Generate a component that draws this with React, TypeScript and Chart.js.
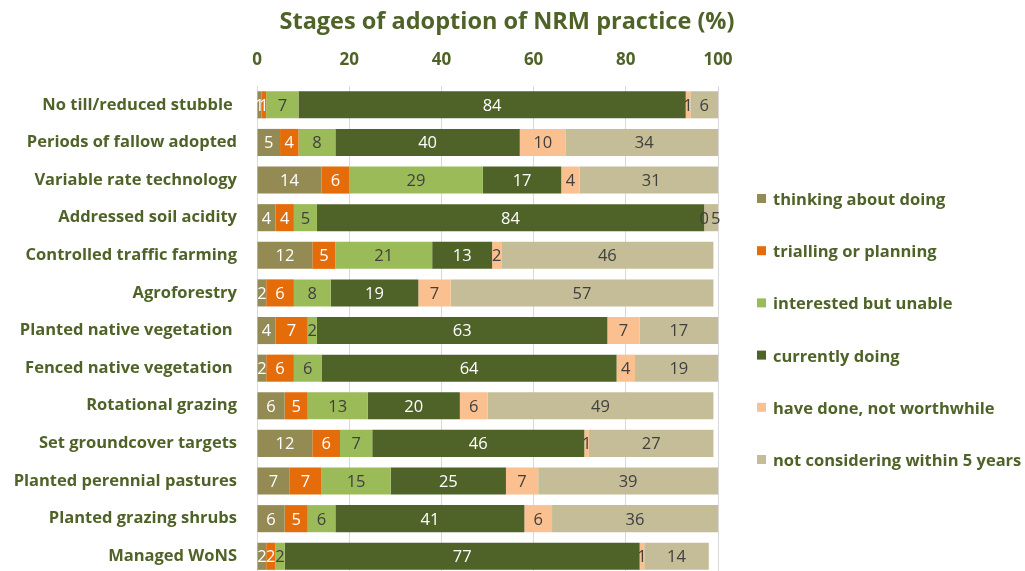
import React, { useEffect, useRef } from 'react';
import { Chart, registerables } from 'chart.js';

Chart.register(...registerables);

const titleText = 'Stages of adoption of NRM practice (%)';

const categories = [
  'No till/reduced stubble ',
  'Periods of fallow adopted',
  'Variable rate technology',
  'Addressed soil acidity',
  'Controlled traffic farming',
  'Agroforestry',
  'Planted native vegetation ',
  'Fenced native vegetation ',
  'Rotational grazing',
  'Set groundcover targets',
  'Planted perennial pastures',
  'Planted grazing shrubs',
  'Managed WoNS',
];

const seriesNames = [
  'thinking about doing',
  'trialling or planning',
  'interested but unable',
  'currently doing',
  'have done, not worthwhile',
  'not considering within 5 years',
];

const thinking = [1, 5, 14, 4, 12, 2, 4, 2, 6, 12, 7, 6, 2];
const trialling = [1, 4, 6, 4, 5, 6, 7, 6, 5, 6, 7, 5, 2];
const interested = [7, 8, 29, 5, 21, 8, 2, 6, 13, 7, 15, 6, 2];
const currently = [84, 40, 17, 84, 13, 19, 63, 64, 20, 46, 25, 41, 77];
const notWorthwhile = [1, 10, 4, 0, 2, 7, 7, 4, 6, 1, 7, 6, 1];
const notConsidering = [6, 34, 31, 5, 46, 57, 17, 19, 49, 27, 39, 36, 14];

const xTicks = [0, 20, 40, 60, 80, 100];

const seriesColors = ['#948A54', '#E46C0A', '#9BBB59', '#4F6228', '#FAC090', '#C4BD97'];
const labelColors = ['#FFFFFF', '#FFFFFF', '#404040', '#FFFFFF', '#404040', '#404040'];

const GREEN = '#4F6228';
const FONT = '"Open Sans", Lato, "DejaVu Sans", sans-serif';

const overlayPlugin = {
  id: 'overlay',
  afterDatasetsDraw(chart: any) {
    const ctx = chart.ctx;
    ctx.save();
    const size = 16.5;
    ctx.font = `${size}px ${FONT}`;
    ctx.textAlign = 'center';
    ctx.textBaseline = 'alphabetic';
    chart.data.datasets.forEach((ds: any, di: number) => {
      const meta = chart.getDatasetMeta(di);
      meta.data.forEach((el: any, i: number) => {
        const p = el.getCenterPoint();
        ctx.fillStyle = labelColors[di];
        ctx.fillText(String(ds.data[i]), p.x, p.y + size * 0.357);
      });
    });
    ctx.restore();
  },
  afterDraw(chart: any) {
    const ctx = chart.ctx;
    ctx.save();
    ctx.font = `bold 23.5px ${FONT}`;
    ctx.fillStyle = GREEN;
    ctx.textAlign = 'center';
    ctx.textBaseline = 'alphabetic';
    ctx.fillText(titleText, 507, 29);
    ctx.font = `bold 16.5px ${FONT}`;
    ctx.textAlign = 'left';
    seriesNames.forEach((name, i) => {
      const base = 205 + i * 52.2;
      ctx.fillStyle = seriesColors[i];
      ctx.fillRect(757, base - 11, 9, 9);
      ctx.fillStyle = GREEN;
      ctx.fillText(name, 773, base);
    });
    ctx.restore();
  },
};

export default function App() {
  const ref = useRef<HTMLCanvasElement>(null);
  useEffect(() => {
    if (!ref.current) return;
    const series = [thinking, trialling, interested, currently, notWorthwhile, notConsidering];
    const chart = new Chart(ref.current, {
      type: 'bar',
      data: {
        labels: categories,
        datasets: series.map((d, i) => ({
          label: seriesNames[i],
          data: d,
          backgroundColor: seriesColors[i],
          borderWidth: 0,
          barPercentage: 0.9,
          categoryPercentage: 0.8,
        })),
      },
      options: {
        indexAxis: 'y',
        animation: false,
        responsive: true,
        maintainAspectRatio: false,
        layout: { padding: { top: 52, right: 307, left: 0, bottom: 0 } },
        plugins: {
          legend: { display: false },
          title: { display: false },
          tooltip: { enabled: false },
        },
        scales: {
          x: {
            position: 'top',
            stacked: true,
            min: 0,
            max: 100,
            afterBuildTicks: (scale: any) => {
              scale.ticks = xTicks.map((v) => ({ value: v }));
            },
            afterFit: (scale: any) => {
              scale.height = 34;
            },
            ticks: {
              padding: 16,
              color: GREEN,
              font: { family: FONT, size: 17, weight: 'bold' },
            },
            grid: { color: '#D9D9D9', drawTicks: false, lineWidth: 1 },
            border: { display: false },
          },
          y: {
            stacked: true,
            afterFit: (scale: any) => {
              scale.width = 257;
            },
            ticks: {
              padding: 20,
              color: GREEN,
              font: { family: FONT, size: 16.5, weight: 'bold' },
            },
            grid: { display: false, drawTicks: false },
            border: { display: false },
          },
        },
      },
      plugins: [overlayPlugin],
    });
    return () => chart.destroy();
  }, []);

  return (
    <div
      style={{
        position: 'fixed',
        left: 0,
        top: 0,
        width: 1025,
        height: 571,
        overflow: 'hidden',
        background: '#FFFFFF',
      }}
    >
      <div style={{ position: 'relative', width: 1025, height: 605 }}>
        <canvas ref={ref} />
      </div>
    </div>
  );
}
